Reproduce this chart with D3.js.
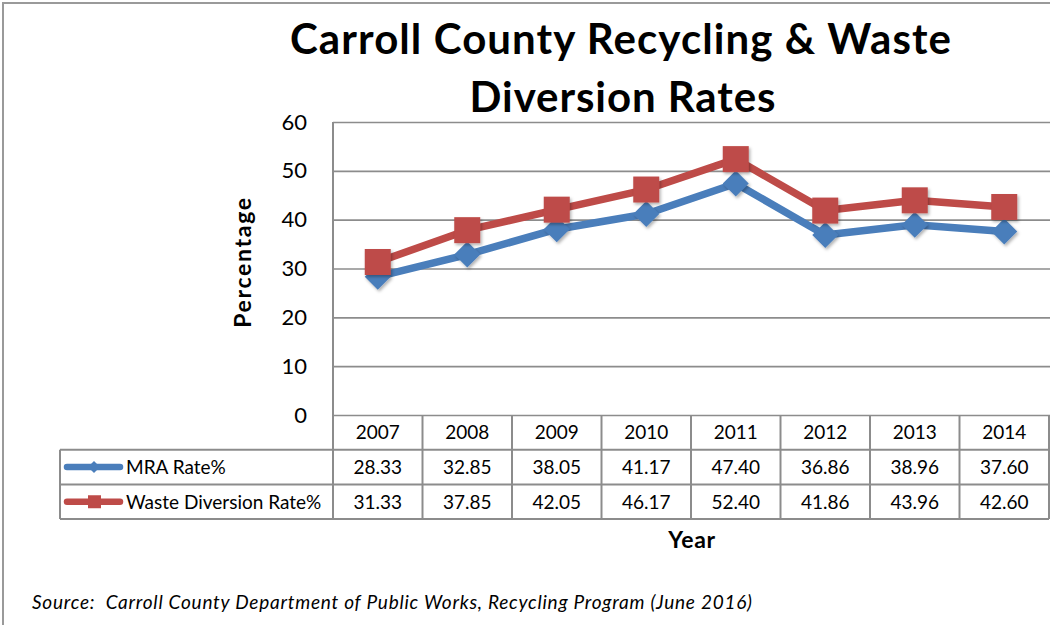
<!DOCTYPE html>
<html>
<head>
<meta charset="utf-8">
<script src="https://cdn.jsdelivr.net/npm/d3@7"></script>
<style>
  html, body { margin: 0; padding: 0; background: #fff; }
  svg { display: block; font-family: Lato, "Open Sans", sans-serif; }
</style>
</head>
<body>
<svg id="chart" width="1050" height="625"></svg>
<script>
// Recycling and waste diversion rates, Carroll County
const years = ["2007", "2008", "2009", "2010", "2011", "2012", "2013", "2014"];
const mraRate = [28.33, 32.85, 38.05, 41.17, 47.40, 36.86, 38.96, 37.60];
const wasteDiversionRate = [31.33, 37.85, 42.05, 46.17, 52.40, 41.86, 43.96, 42.60];
const yTicks = [0, 10, 20, 30, 40, 50, 60];
const seriesNames = ["MRA Rate%", "Waste Diversion Rate%"];

const series = [
  { name: seriesNames[0], values: mraRate, color: "#4a7ebb", marker: "diamond" },
  { name: seriesNames[1], values: wasteDiversionRate, color: "#be4b48", marker: "square" }
];

const svg = d3.select("#chart");
const gridColor = "#8c8c8c";

const plot = { left: 333, right: 1049, top: 122, bottom: 415 };
const rowH = 34.7;
const legendLeft = 60;

const x = d3.scaleBand().domain(years).range([plot.left, plot.right]);
const y = d3.scaleLinear().domain([0, 60]).range([plot.bottom, plot.top]);

// stretch a text element's letter spacing until it spans the given width
function fitWidth(sel, width) {
  sel.each(function () {
    const n = this.getNumberOfChars();
    const w = this.getComputedTextLength();
    if (n > 1) d3.select(this).attr("letter-spacing", (width - w) / (n - 1));
  });
}

// outer chart frame
svg.append("path")
  .attr("d", `M3,625 V3 H1050`)
  .attr("fill", "none").attr("stroke", "#9a9a9a").attr("stroke-width", 2);

// drop shadow for markers
const defs = svg.append("defs");
const f = defs.append("filter").attr("id", "shadow")
  .attr("x", "-30%").attr("y", "-30%").attr("width", "170%").attr("height", "170%");
f.append("feDropShadow").attr("dx", 1.5).attr("dy", 2).attr("stdDeviation", 1.8)
  .attr("flood-color", "#000").attr("flood-opacity", 0.3);

// title
const titleLines = [
  { text: "Carroll County Recycling & Waste", cx: 621, y: 54, w: 661 },
  { text: "Diversion Rates", cx: 623, y: 112, w: 306 }
];
titleLines.forEach(t => {
  svg.append("text")
    .attr("x", t.cx).attr("y", t.y)
    .attr("text-anchor", "middle")
    .attr("font-weight", 700)
    .attr("font-size", 42)
    .attr("fill", "#000")
    .text(t.text)
    .call(fitWidth, t.w);
});

// horizontal gridlines + y axis
const yAxis = d3.axisLeft(y).tickValues(yTicks).tickSize(-(plot.right - plot.left + 6)).tickPadding(24);
const gy = svg.append("g").attr("transform", `translate(${plot.left},0)`).call(yAxis);
gy.select(".domain").remove();
gy.selectAll(".tick line").attr("stroke", gridColor).attr("stroke-width", 1.6);
gy.selectAll(".tick text").attr("font-size", 22).attr("fill", "#000")
  .attr("font-family", "Lato, sans-serif").attr("x", -26);

// vertical axis line, running down through the data table
svg.append("line")
  .attr("x1", plot.left).attr("x2", plot.left)
  .attr("y1", plot.top).attr("y2", plot.bottom + rowH * 3)
  .attr("stroke", gridColor).attr("stroke-width", 2);

// data table
const tbl = svg.append("g");
const rowsY = [plot.bottom, plot.bottom + rowH, plot.bottom + rowH * 2, plot.bottom + rowH * 3];
const cellFont = 19;

// horizontal rules
tbl.selectAll("line.h").data(rowsY.slice(1)).join("line")
  .attr("x1", legendLeft).attr("x2", plot.right)
  .attr("y1", d => d).attr("y2", d => d)
  .attr("stroke", gridColor).attr("stroke-width", 2);
// vertical rules between years
const colEdges = years.map(yr => x(yr) + x.bandwidth());
tbl.selectAll("line.v").data(colEdges).join("line")
  .attr("x1", d => d).attr("x2", d => d)
  .attr("y1", plot.bottom).attr("y2", rowsY[3])
  .attr("stroke", gridColor).attr("stroke-width", 2);
// legend column left edge
tbl.append("line")
  .attr("x1", legendLeft).attr("x2", legendLeft)
  .attr("y1", rowsY[1]).attr("y2", rowsY[3])
  .attr("stroke", gridColor).attr("stroke-width", 2);

// year header
tbl.selectAll("text.year").data(years).join("text")
  .attr("x", d => x(d) + x.bandwidth() / 2)
  .attr("y", plot.bottom + rowH / 2)
  .attr("dy", "0.36em")
  .attr("text-anchor", "middle")
  .attr("font-size", cellFont).attr("fill", "#000")
  .text(d => d);

// value rows
series.forEach((s, i) => {
  const cy = rowsY[i + 1] + rowH / 2;
  tbl.selectAll(`text.val${i}`).data(s.values).join("text")
    .attr("x", (d, j) => x(years[j]) + x.bandwidth() / 2)
    .attr("y", cy)
    .attr("dy", "0.36em")
    .attr("text-anchor", "middle")
    .attr("font-size", cellFont).attr("fill", "#000")
    .text(d => d.toFixed(2));

  // legend key
  tbl.append("line")
    .attr("x1", 67).attr("x2", 120).attr("y1", cy).attr("y2", cy)
    .attr("stroke", s.color).attr("stroke-width", 6.5).attr("stroke-linecap", "round");
  if (s.marker === "diamond") {
    tbl.append("path").attr("d", "M0,-6 L6,0 L0,6 L-6,0 Z")
      .attr("transform", `translate(94,${cy})`).attr("fill", s.color);
  } else {
    tbl.append("rect").attr("x", 88).attr("y", cy - 6.5).attr("width", 13).attr("height", 13)
      .attr("fill", s.color);
  }
  tbl.append("text")
    .attr("x", 126).attr("y", cy).attr("dy", "0.36em")
    .attr("font-size", cellFont).attr("fill", "#000")
    .text(s.name);
});

// series lines and markers
const line = d3.line().x((d, j) => x(years[j]) + x.bandwidth() / 2).y(d => y(d));
series.forEach(s => {
  const g = svg.append("g");
  g.append("path").datum(s.values)
    .attr("d", line)
    .attr("fill", "none").attr("stroke", s.color)
    .attr("stroke-width", 7.5).attr("stroke-linejoin", "round");
  const m = g.selectAll("path.m").data(s.values).join("path")
    .attr("filter", "url(#shadow)")
    .attr("fill", s.color)
    .attr("transform", (d, j) => `translate(${x(years[j]) + x.bandwidth() / 2},${y(d)})`);
  if (s.marker === "diamond") {
    m.attr("d", "M0,-13 L13,0 L0,13 L-13,0 Z");
  } else {
    m.attr("d", "M-13,-13 H13 V13 H-13 Z");
  }
});

// axis titles
svg.append("text")
  .attr("transform", `translate(251,262) rotate(-90)`)
  .attr("text-anchor", "middle")
  .attr("font-size", 23).attr("font-weight", 700).attr("fill", "#000")
  .text("Percentage")
  .call(fitWidth, 130);
svg.append("text")
  .attr("x", 692).attr("y", 548)
  .attr("text-anchor", "middle")
  .attr("font-size", 23).attr("font-weight", 700).attr("fill", "#000")
  .text("Year")
  .call(fitWidth, 47);

// source note
svg.append("text")
  .attr("x", 32).attr("y", 609)
  .attr("font-size", 19).attr("font-style", "italic").attr("fill", "#000")
  .attr("xml:space", "preserve")
  .text("Source:  Carroll County Department of Public Works, Recycling Program (June 2016)")
  .call(fitWidth, 720);
</script>
</body>
</html>
